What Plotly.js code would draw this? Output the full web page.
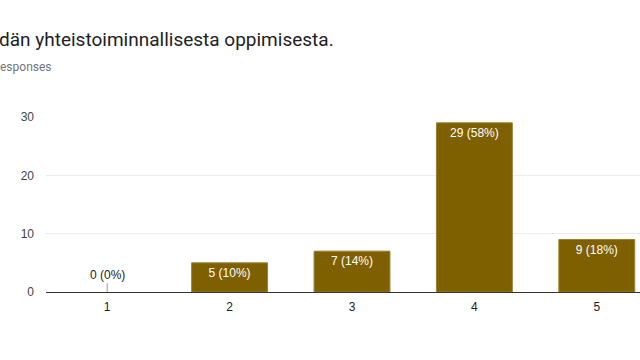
<!DOCTYPE html>
<html><head><meta charset="utf-8">
<script src="https://cdn.plot.ly/plotly-3.0.1.min.js"></script>
<style>html,body{margin:0;padding:0;overflow:hidden;background:#fff;width:640px;height:360px}#c{width:680px;height:360px}</style>
</head><body><div id="c"></div>
<script>
const categories = ['1','2','3','4','5'];
const counts = [0, 5, 7, 29, 9];
const percents = [0, 10, 14, 58, 18];
const titleText = 'dän yhteistoiminnallisesta oppimisesta.';
const subtitleText = 'esponses';
const yTicks = [0, 10, 20, 30];

const labels = counts.map((c, i) => c + ' (' + percents[i] + '%)');
const positions = counts.map(c => c === 0 ? 'none' : 'inside');

const trace = {
  type: 'bar', x: categories, y: counts, text: labels,
  textposition: positions, insidetextanchor: 'end', textangle: 0,
  cliponaxis: false, constraintext: 'none',
  insidetextfont: {family: 'Liberation Sans, Arial', size: 12, color: '#ffffff'},
  marker: {color: '#7f6000', line: {color: '#9a7f33', width: counts.map(c => c === 0 ? 0 : 1)}},
  width: 0.62, hoverinfo: 'none'
};

const shapes = [], zeroAnn = [];
counts.forEach((c, i) => {
  if (c === 0) {
    shapes.push({type: 'line', xref: 'x', yref: 'y', x0: i, x1: i, y0: 0, y1: 1.5, line: {color: '#999', width: 1}});
    zeroAnn.push({text: labels[i], xref: 'x', yref: 'y', x: i, y: 0, yshift: 17, xanchor: 'center', yanchor: 'middle', showarrow: false,
      font: {family: 'Liberation Sans, Arial', size: 12, color: '#222'}});
  }
});

const layout = {
  width: 680, height: 360,
  margin: {l: 46, r: 21.5, t: 117, b: 68, pad: 0},
  paper_bgcolor: '#fff', plot_bgcolor: '#fff',
  showlegend: false, bargap: 0.38,
  font: {family: 'Liberation Sans, Arial', size: 12, color: '#444'},
  xaxis: {type: 'category', range: [-0.5, 4.5], showgrid: false, zeroline: false,
    showline: false, ticks: '', ticklabelstandoff: 6,
    tickfont: {family: 'Liberation Sans, Arial', size: 12, color: '#222'}},
  yaxis: {range: [0, 30], tickvals: yTicks, showgrid: true, gridcolor: '#ebebeb', gridwidth: 1,
    zeroline: true, zerolinecolor: '#333', zerolinewidth: 1, showline: false, ticks: '',
    ticklabelstandoff: 11, tickfont: {family: 'Liberation Sans, Arial', size: 12, color: '#444'}},
  shapes: shapes,
  annotations: zeroAnn.concat([
    {text: titleText, xref: 'paper', yref: 'paper', x: 0, xshift: -49, y: 1, yshift: 78,
     xanchor: 'left', yanchor: 'middle', showarrow: false,
     font: {family: 'Roboto, Liberation Sans', size: 19, color: '#202124'}},
    {text: subtitleText, xref: 'paper', yref: 'paper', x: 0, xshift: -48, y: 1, yshift: 50,
     xanchor: 'left', yanchor: 'middle', showarrow: false,
     font: {family: 'Roboto, Liberation Sans', size: 12, color: '#70757a'}}
  ])
};
Plotly.newPlot('c', [trace], layout, {displayModeBar: false, staticPlot: true});
</script></body></html>
